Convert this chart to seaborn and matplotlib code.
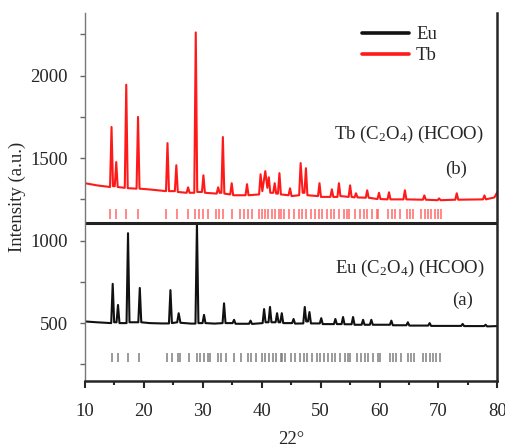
import numpy as np
import pandas as pd
import matplotlib
matplotlib.use("Agg")
import matplotlib.pyplot as plt
from matplotlib.ticker import MultipleLocator
import seaborn as sns

# Eu (C2O4)(HCOO) pattern (2theta, intensity)
eu_two_theta = [10, 12, 14.45, 14.7, 14.95, 15.35, 15.6, 15.85, 17.05, 17.3, 17.55,
                19.05, 19.3, 19.55, 21, 23, 24.25, 24.5, 24.75, 25.65, 25.9, 26.2,
                28, 28.75, 29.0, 29.25, 29.95, 30.2, 30.45, 32, 33.35, 33.6, 33.85,
                35.05, 35.3, 35.55, 37.85, 38.1, 38.35, 40.15, 40.4, 40.65, 41.15,
                41.4, 41.65, 42.35, 42.6, 42.85, 43.15, 43.4, 43.65, 45.15, 45.4,
                45.65, 47.05, 47.3, 47.55, 47.85, 48.1, 48.35, 49.85, 50.1, 50.35,
                52.25, 52.5, 52.75, 53.55, 53.8, 54.05, 55.25, 55.5, 55.75, 56.95,
                57.2, 57.45, 58.35, 58.6, 58.85, 61.75, 62.0, 62.25, 64.55, 64.8,
                65.05, 68.25, 68.5, 68.75, 73.85, 74.1, 74.35, 77.75, 78.0, 78.25, 80]
eu_intensity = [510, 505, 500, 738, 505, 505, 610, 500, 500, 1045, 505,
                505, 713, 505, 500, 498, 498, 700, 500, 505, 560, 502,
                497, 497, 1105, 500, 500, 550, 500, 497, 500, 620, 500,
                500, 520, 496, 496, 515, 495, 500, 585, 505, 505,
                598, 505, 505, 560, 505, 505, 560, 500, 500, 525,
                497, 498, 598, 510, 510, 567, 498, 498, 530, 494,
                494, 525, 494, 494, 537, 493, 493, 537, 490, 490,
                520, 490, 490, 520, 490, 490, 515, 487, 487, 505,
                485, 485, 500, 483, 483, 495, 482, 482, 490, 480, 482]

# Tb (C2O4)(HCOO) pattern
tb_two_theta = [10, 12, 14.25, 14.5, 14.75, 15.05, 15.3, 15.55, 16.75, 17.0, 17.25,
                18.75, 19.0, 19.25, 21, 23.75, 24.0, 24.25, 25.25, 25.5, 25.75,
                27.25, 27.5, 27.75, 28.55, 28.8, 29.05, 29.85, 30.1, 30.35, 32.35,
                32.6, 32.85, 33.15, 33.4, 33.65, 34.65, 34.9, 35.15, 37.25, 37.5,
                37.75, 39.55, 39.8, 40.1, 40.6, 40.95, 41.2, 41.45, 41.95, 42.2,
                42.45, 42.75, 43.0, 43.25, 44.55, 44.8, 45.05, 46.35, 46.6, 46.95,
                47.25, 47.5, 47.75, 49.55, 49.8, 50.05, 51.65, 51.9, 52.15, 52.85,
                53.1, 53.35, 54.75, 55.0, 55.25, 55.75, 56.0, 56.25, 57.65, 57.9,
                58.15, 59.65, 59.9, 60.15, 61.35, 61.6, 61.85, 64.05, 64.3, 64.55,
                67.35, 67.6, 67.85, 69.85, 70.1, 70.35, 72.85, 73.1, 73.35, 77.55,
                77.8, 78.05, 79.5, 80]
tb_intensity = [1348, 1335, 1325, 1689, 1330, 1330, 1476, 1325, 1320, 1945, 1318,
                1315, 1750, 1315, 1310, 1300, 1591, 1300, 1300, 1457, 1295,
                1290, 1323, 1290, 1290, 2262, 1295, 1295, 1396, 1290, 1285,
                1323, 1290, 1290, 1628, 1285, 1280, 1348, 1275, 1275, 1342,
                1275, 1280, 1402, 1300, 1421, 1320, 1384, 1290, 1290, 1348,
                1285, 1285, 1409, 1280, 1275, 1317, 1270, 1275, 1470, 1290,
                1290, 1439, 1275, 1270, 1348, 1265, 1265, 1311, 1265, 1265,
                1348, 1270, 1265, 1335, 1265, 1262, 1287, 1262, 1260, 1305,
                1260, 1252, 1290, 1252, 1250, 1293, 1250, 1250, 1305, 1250,
                1248, 1274, 1248, 1245, 1256, 1245, 1248, 1287, 1248, 1250,
                1274, 1250, 1262, 1295]

# reference reflection positions (tick rows)
eu_ref = [14.6, 15.6, 17.3, 19.1, 24.0, 24.7, 25.7, 26.2, 27.7, 29.0, 29.6, 30.2, 30.8,
          31.2, 32.5, 33.0, 33.9, 35.3, 36.4, 37.7, 38.1, 39.0, 40.1, 40.6, 41.2, 41.9,
          42.4, 43.2, 43.4, 44.0, 44.9, 45.7, 46.5, 47.1, 47.7, 48.5, 49.3, 49.9, 50.5,
          51.3, 51.9, 52.5, 53.3, 54.1, 54.7, 55.0, 56.1, 56.9, 57.5, 58.1, 58.9, 59.7,
          60.0, 61.7, 62.3, 62.8, 63.7, 64.8, 65.4, 65.9, 67.3, 67.9, 68.5, 69.0, 69.6, 70.2]
tb_ref = [14.3, 15.2, 17.0, 19.0, 23.7, 25.6, 27.5, 28.7, 29.4, 30.1, 30.8, 32.2, 32.8,
          33.4, 35.0, 36.3, 37.0, 37.7, 38.4, 39.5, 40.0, 40.5, 41.0, 41.7, 42.2, 43.0,
          43.3, 43.8, 44.7, 45.5, 46.3, 46.9, 47.5, 48.3, 49.1, 49.7, 50.3, 51.1, 51.7,
          52.3, 53.1, 53.9, 54.5, 54.8, 55.9, 56.7, 57.3, 57.9, 58.7, 59.5, 59.8, 61.5,
          62.1, 62.6, 63.5, 64.6, 65.2, 65.7, 67.1, 67.7, 68.3, 68.8, 69.4, 70.0, 70.5]

sns.set_style("ticks")
plt.rcParams["font.family"] = ["Liberation Serif", "DejaVu Serif"]
plt.rcParams["mathtext.fontset"] = "custom"
plt.rcParams["mathtext.rm"] = "Liberation Serif"
plt.rcParams["mathtext.it"] = "Liberation Serif"

eu_df = pd.DataFrame({"two_theta": eu_two_theta, "intensity": eu_intensity})
tb_df = pd.DataFrame({"two_theta": tb_two_theta, "intensity": tb_intensity})

fig = plt.figure(figsize=(5.06, 4.47), dpi=100)
ax = fig.add_axes([0.168, 0.148, 0.815, 0.823])

sns.lineplot(data=eu_df, x="two_theta", y="intensity", color="#111111", lw=1.5,
             estimator=None, sort=False, ax=ax, label="Eu")
sns.lineplot(data=tb_df, x="two_theta", y="intensity", color="#ff1a1a", lw=1.5,
             estimator=None, sort=False, ax=ax, label="Tb")

# divider between the two patterns
ax.axhline(1104, color="#222222", lw=2.2)

# reference ticks
ax.vlines(eu_ref, 262, 317, color="#777777", lw=1.3, alpha=0.8)
ax.vlines(tb_ref, 1130, 1190, color="#ff6060", lw=1.3, alpha=0.8)

fs = 13.5
ax.text(52.3, 1645, "Tb (C$_2$O$_4$) (HCOO)", fontsize=fs, va="center", ha="left")
ax.text(72.9, 1434, "(b)", fontsize=fs, va="center", ha="center")
ax.text(52.4, 831, "Eu (C$_2$O$_4$) (HCOO)", fontsize=fs, va="center", ha="left")
ax.text(74.1, 639, "(a)", fontsize=fs, va="center", ha="center")

ax.set_xlim(10, 80)
ax.set_ylim(150, 2380)
ax.xaxis.set_major_locator(MultipleLocator(10))
ax.xaxis.set_minor_locator(MultipleLocator(5))
ax.yaxis.set_major_locator(MultipleLocator(500))
ax.yaxis.set_minor_locator(MultipleLocator(250))
ax.tick_params(axis="x", which="major", direction="out", length=5, width=1.5,
               pad=11, labelsize=fs)
ax.tick_params(axis="x", which="minor", direction="out", length=3, width=1.5)
ax.tick_params(axis="y", which="both", direction="out", length=3.5, width=1,
               color="#666666", pad=9, labelsize=fs)

ax.set_xlabel("22°", fontsize=fs, labelpad=8)
ax.set_ylabel("Intensity (a.u.)", fontsize=fs, labelpad=3)

ax.spines["top"].set_visible(False)
ax.spines["left"].set_color("#777777")
ax.spines["left"].set_linewidth(1)
ax.spines["bottom"].set_linewidth(1.8)
ax.spines["right"].set_linewidth(1.8)

leg = ax.legend(loc="upper left", bbox_to_anchor=(0.63, 1.01), frameon=False,
                fontsize=fs, handlelength=2.5, handletextpad=0.4, labelspacing=0.2)
for line in leg.get_lines():
    line.set_linewidth(2.6)

fig.savefig("out.png", dpi=100)
